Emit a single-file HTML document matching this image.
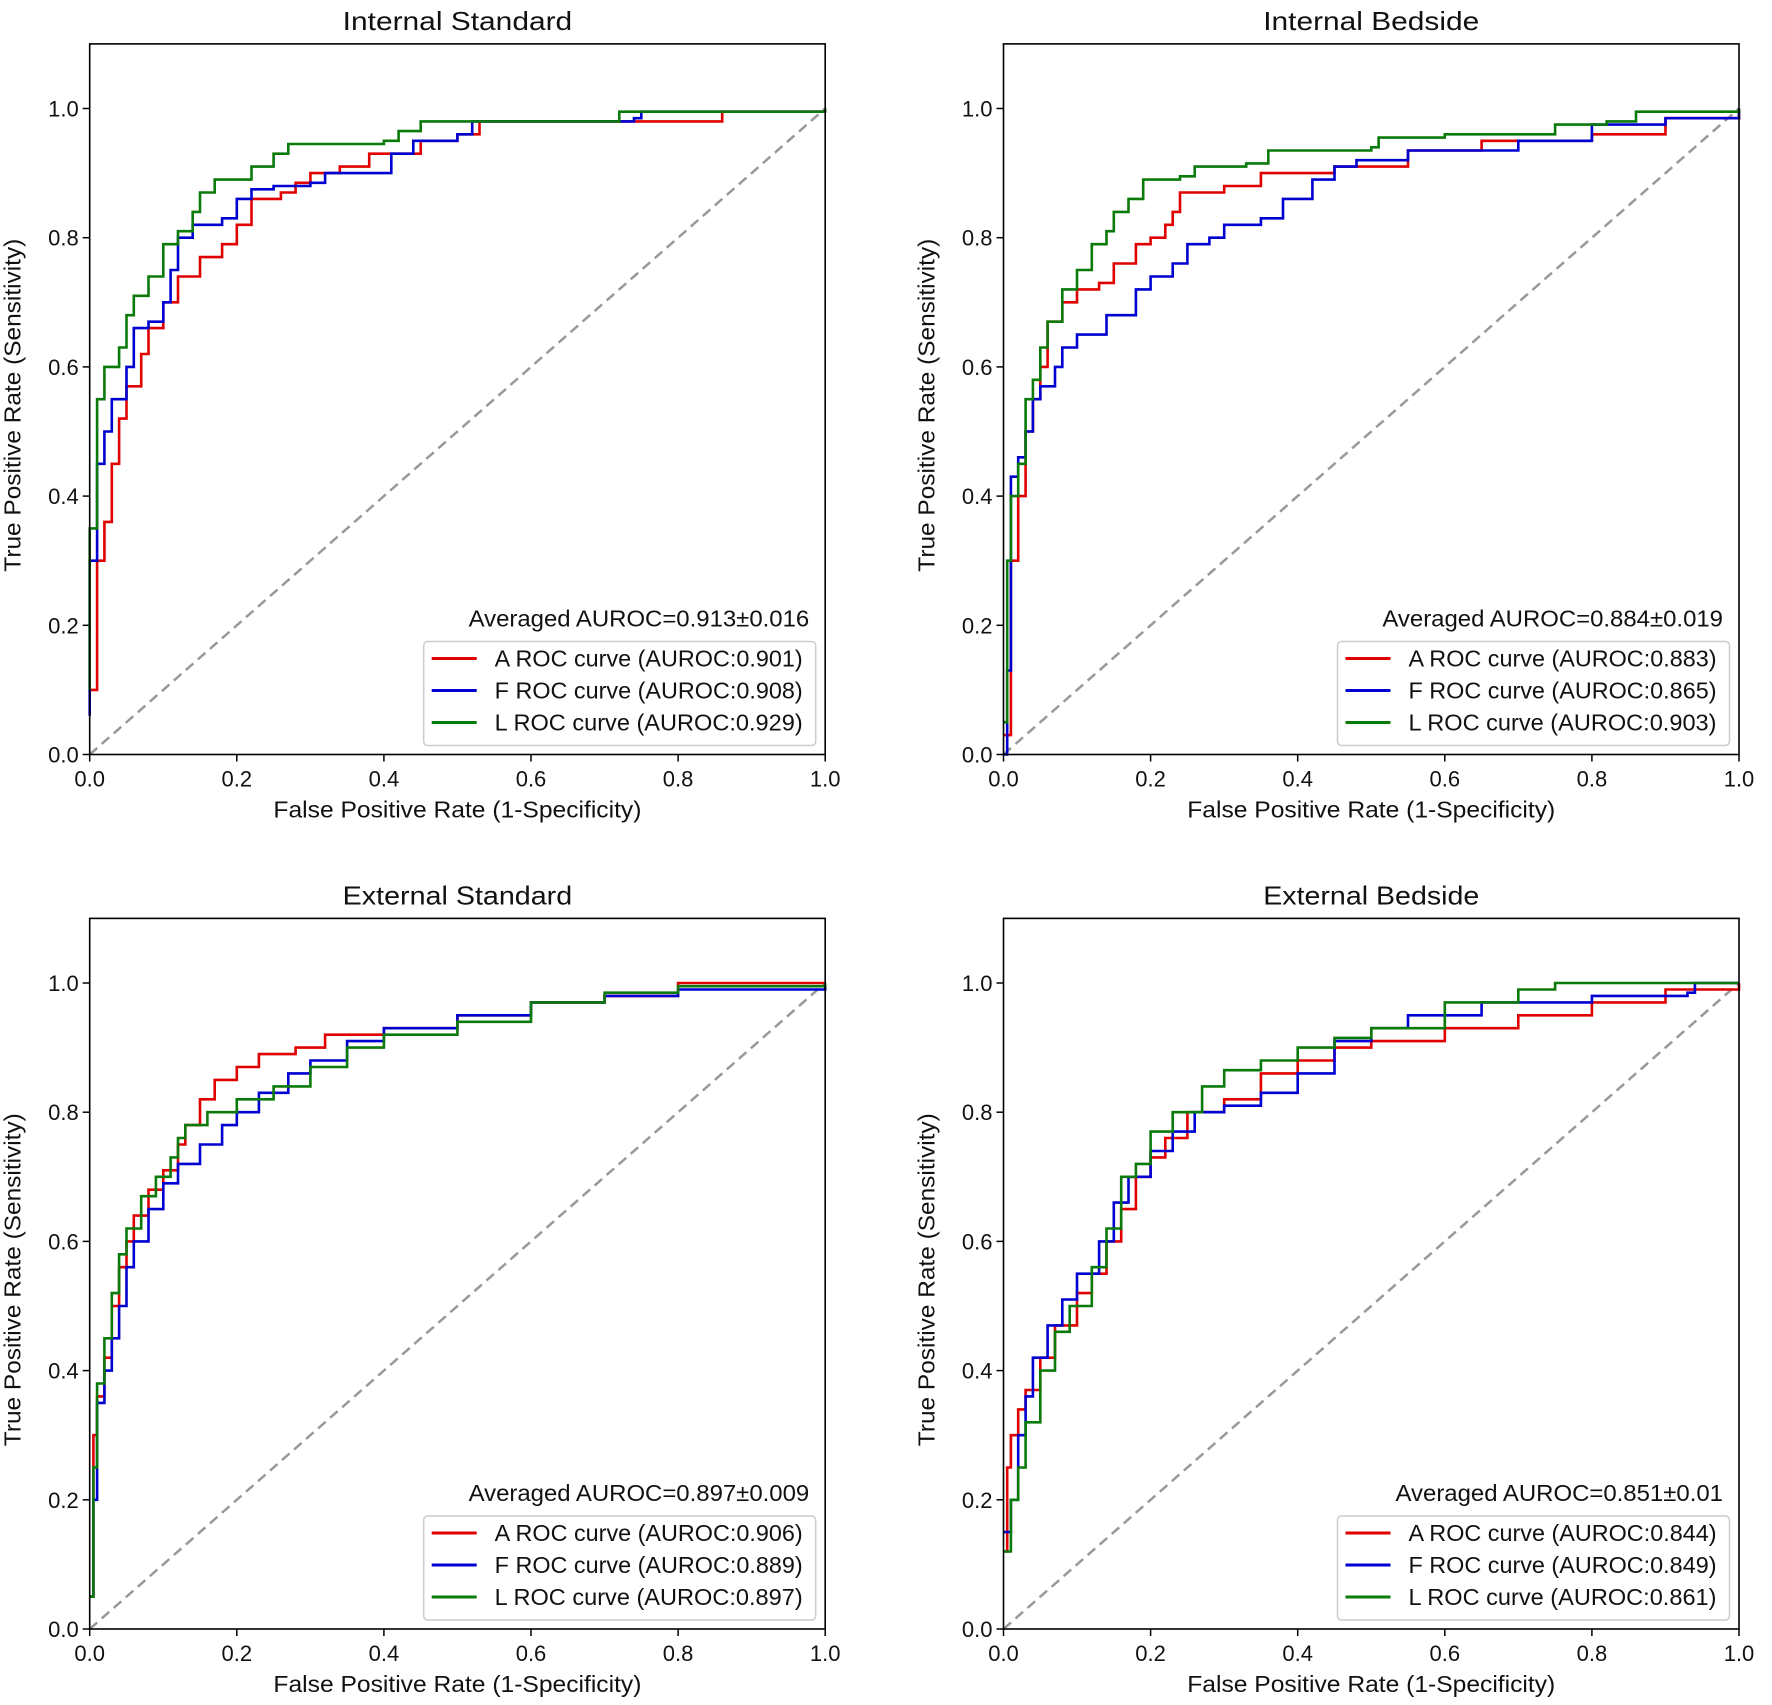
<!DOCTYPE html>
<html><head><meta charset="utf-8"><style>
body{margin:0;background:#fff}
svg{display:block;font-family:"Liberation Sans","DejaVu Sans",sans-serif}
</style></head><body>
<svg id="fig" width="1772" height="1705" viewBox="0 0 1772 1705"></svg>
<script>
const panelTitles=["Internal Standard","Internal Bedside","External Standard","External Bedside"];
const averagedLabels=["Averaged AUROC=0.913±0.016","Averaged AUROC=0.884±0.019","Averaged AUROC=0.897±0.009","Averaged AUROC=0.851±0.01"];
const seriesNames=["A","F","L"];
const seriesColors=["#e00000","#0000d0","#0a7a0a"];
const aurocValues=[["0.901","0.908","0.929"],["0.883","0.865","0.903"],["0.906","0.889","0.897"],["0.844","0.849","0.861"]];
const tickValues=[0,0.2,0.4,0.6,0.8,1.0];
const tickLabels=["0.0","0.2","0.4","0.6","0.8","1.0"];
// panel 1
const p1A_fpr=[0,0.01,0.02,0.03,0.04,0.05,0.07,0.08,0.1,0.12,0.15,0.18,0.2,0.22,0.26,0.28,0.3,0.34,0.38,0.45,0.5,0.53,0.85,0.86,1];
const p1A_tpr=[0.1,0.3,0.36,0.45,0.52,0.57,0.62,0.66,0.7,0.74,0.77,0.79,0.82,0.86,0.87,0.885,0.9,0.91,0.93,0.95,0.96,0.98,0.98,0.995,1];
const p1F_fpr=[0,0,0.01,0.02,0.03,0.05,0.06,0.08,0.1,0.11,0.12,0.14,0.18,0.2,0.22,0.25,0.3,0.32,0.4,0.41,0.44,0.5,0.52,0.74,0.75,1];
const p1F_tpr=[0.06,0.3,0.45,0.5,0.55,0.6,0.66,0.67,0.7,0.75,0.8,0.82,0.83,0.86,0.875,0.88,0.885,0.9,0.9,0.93,0.95,0.96,0.98,0.985,0.995,1];
const p1L_fpr=[0,0,0.01,0.01,0.02,0.04,0.05,0.06,0.08,0.1,0.12,0.14,0.15,0.17,0.2,0.22,0.25,0.27,0.4,0.42,0.45,0.7,0.72,1];
const p1L_tpr=[0.1,0.35,0.5,0.55,0.6,0.63,0.68,0.71,0.74,0.79,0.81,0.84,0.87,0.89,0.89,0.91,0.93,0.945,0.95,0.965,0.98,0.98,0.995,1];
// panel 2
const p2A_fpr=[0,0.01,0.02,0.03,0.04,0.05,0.06,0.08,0.1,0.13,0.15,0.18,0.2,0.22,0.23,0.24,0.3,0.35,0.45,0.5,0.55,0.65,0.8,0.9,1];
const p2A_tpr=[0.03,0.3,0.4,0.5,0.55,0.6,0.67,0.7,0.72,0.73,0.76,0.79,0.8,0.82,0.84,0.87,0.88,0.9,0.91,0.91,0.935,0.95,0.96,0.985,1];
const p2F_fpr=[0,0.005,0.01,0.02,0.03,0.04,0.05,0.07,0.08,0.1,0.14,0.18,0.2,0.23,0.25,0.28,0.3,0.35,0.38,0.42,0.45,0.48,0.55,0.7,0.8,0.9,1];
const p2F_tpr=[0,0.13,0.43,0.46,0.5,0.55,0.57,0.6,0.63,0.65,0.68,0.72,0.74,0.76,0.79,0.8,0.82,0.83,0.86,0.89,0.91,0.92,0.935,0.95,0.975,0.985,1];
const p2L_fpr=[0,0.005,0.01,0.02,0.03,0.04,0.05,0.06,0.08,0.1,0.12,0.14,0.15,0.17,0.19,0.24,0.26,0.33,0.36,0.5,0.51,0.6,0.75,0.82,0.86,1];
const p2L_tpr=[0.05,0.3,0.4,0.45,0.55,0.58,0.63,0.67,0.72,0.75,0.79,0.81,0.84,0.86,0.89,0.895,0.91,0.915,0.935,0.94,0.955,0.96,0.975,0.98,0.995,1];
// panel 3
const p3A_fpr=[0,0.005,0.01,0.02,0.03,0.04,0.05,0.06,0.08,0.1,0.12,0.13,0.15,0.17,0.2,0.23,0.28,0.32,0.4,0.5,0.6,0.7,0.8,1];
const p3A_tpr=[0.05,0.3,0.36,0.42,0.5,0.56,0.6,0.64,0.68,0.71,0.75,0.78,0.82,0.85,0.87,0.89,0.9,0.92,0.93,0.95,0.97,0.98,1.0,1];
const p3F_fpr=[0,0.005,0.01,0.02,0.03,0.04,0.05,0.06,0.08,0.1,0.12,0.15,0.18,0.2,0.23,0.27,0.3,0.35,0.4,0.5,0.6,0.7,0.8,1];
const p3F_tpr=[0.05,0.2,0.35,0.4,0.45,0.5,0.56,0.6,0.65,0.69,0.72,0.75,0.78,0.8,0.83,0.86,0.88,0.91,0.93,0.95,0.97,0.98,0.99,1];
const p3L_fpr=[0,0.005,0.01,0.02,0.03,0.04,0.05,0.07,0.09,0.11,0.12,0.13,0.16,0.2,0.25,0.3,0.35,0.4,0.5,0.6,0.7,0.8,1];
const p3L_tpr=[0.05,0.25,0.38,0.45,0.52,0.58,0.62,0.67,0.7,0.73,0.76,0.78,0.8,0.82,0.84,0.87,0.9,0.92,0.94,0.97,0.985,0.995,1];
// panel 4
const p4A_fpr=[0,0.005,0.01,0.02,0.03,0.05,0.07,0.1,0.12,0.14,0.16,0.18,0.2,0.22,0.25,0.3,0.35,0.4,0.45,0.5,0.6,0.7,0.8,0.9,1];
const p4A_tpr=[0.12,0.25,0.3,0.34,0.37,0.42,0.47,0.52,0.55,0.6,0.65,0.7,0.73,0.76,0.8,0.82,0.86,0.88,0.9,0.91,0.93,0.95,0.97,0.99,1];
const p4F_fpr=[0,0.01,0.02,0.03,0.04,0.06,0.08,0.1,0.13,0.15,0.17,0.2,0.23,0.26,0.3,0.35,0.4,0.45,0.5,0.55,0.65,0.8,0.93,0.94,1];
const p4F_tpr=[0.15,0.2,0.3,0.36,0.42,0.47,0.51,0.55,0.6,0.66,0.7,0.74,0.77,0.8,0.81,0.83,0.86,0.91,0.93,0.95,0.97,0.98,0.985,1,1];
const p4L_fpr=[0,0.01,0.02,0.03,0.05,0.07,0.09,0.12,0.14,0.16,0.18,0.2,0.23,0.27,0.3,0.35,0.4,0.45,0.5,0.6,0.7,0.75,1];
const p4L_tpr=[0.12,0.2,0.25,0.32,0.4,0.46,0.5,0.56,0.62,0.7,0.72,0.77,0.8,0.84,0.865,0.88,0.9,0.915,0.93,0.97,0.99,1.0,1];

const curves=[
 [[p1A_fpr,p1A_tpr],[p1F_fpr,p1F_tpr],[p1L_fpr,p1L_tpr]],
 [[p2A_fpr,p2A_tpr],[p2F_fpr,p2F_tpr],[p2L_fpr,p2L_tpr]],
 [[p3A_fpr,p3A_tpr],[p3F_fpr,p3F_tpr],[p3L_fpr,p3L_tpr]],
 [[p4A_fpr,p4A_tpr],[p4F_fpr,p4F_tpr],[p4L_fpr,p4L_tpr]]];

const NS="http://www.w3.org/2000/svg";
const svg=document.getElementById('fig');
function mk(tag,attrs,parent){const e=document.createElementNS(NS,tag);for(const k in attrs)e.setAttribute(k,attrs[k]);(parent||svg).appendChild(e);return e;}
const lefts=[89.7,1003.5], bottoms=[754.5,1629];
const W=735.5, U=646;
for(let p=0;p<4;p++){
 const L=lefts[p%2], B=bottoms[Math.floor(p/2)], T=B-1.1*U;
 const sx=v=>L+v*W, sy=v=>B-v*U;
 const g=mk('g',{});
 
 
 const title=mk('text',{x:L+W/2,y:T-14,'text-anchor':'middle','font-size':26,fill:'#111'},g);
 title.textContent=panelTitles[p];
 title.setAttribute('textLength',panelTitles[p].length*13.5);
 title.setAttribute('lengthAdjust','spacingAndGlyphs');
 
 
 const d=mk('line',{x1:sx(0),y1:sy(0),x2:sx(1),y2:sy(1),stroke:'#999','stroke-width':2.5,'stroke-dasharray':'10,6'},g);
 
 
 for(let i=0;i<tickValues.length;i++){
  const v=tickValues[i];
  mk('line',{x1:sx(v),y1:B,x2:sx(v),y2:B+7,stroke:'#000','stroke-width':1.5},g);
  const tx=mk('text',{x:sx(v),y:B+32,'text-anchor':'middle','font-size':22,fill:'#111'},g);
  tx.textContent=tickLabels[i];
  
  
  mk('line',{x1:L-7,y1:sy(v),x2:L,y2:sy(v),stroke:'#000','stroke-width':1.5},g);
  const ty=mk('text',{x:L-11,y:sy(v)+8,'text-anchor':'end','font-size':22,fill:'#111'},g);
  ty.textContent=tickLabels[i];
  
  
 }
 const xl=mk('text',{x:L+W/2,y:B+63,'text-anchor':'middle','font-size':23,fill:'#111',textLength:368,lengthAdjust:'spacingAndGlyphs'},g);
 xl.textContent='False Positive Rate (1-Specificity)';
 
 
 const yx=L-69, yy=B-1.1*U/2+6;
 const yl=mk('text',{x:yx,y:yy,'text-anchor':'middle','font-size':23,fill:'#111',textLength:333,lengthAdjust:'spacingAndGlyphs',transform:`rotate(-90 ${yx} ${yy})`},g);
 yl.textContent='True Positive Rate (Sensitivity)';
 
 
 for(let s=0;s<3;s++){
  const [fx,ty2]=curves[p][s];
  let pts=[];
  for(let i=0;i<fx.length;i++){
   if(i>0) pts.push(sx(fx[i]).toFixed(1)+','+sy(ty2[i-1]).toFixed(1));
   pts.push(sx(fx[i]).toFixed(1)+','+sy(ty2[i]).toFixed(1));
  }
  const pl=mk('polyline',{points:pts.join(' '),fill:'none',stroke:seriesColors[s],'stroke-width':2.6},g);
  
  
 }
 const fr=mk('rect',{x:L,y:T,width:W,height:1.1*U,fill:'none',stroke:'#000','stroke-width':1.6},g);
 
 
 const avLen=averagedLabels[p].length*13.1;
 const av=mk('text',{x:L+W-16,y:B-128,'text-anchor':'end','font-size':23,fill:'#111',textLength:avLen,lengthAdjust:'spacingAndGlyphs'},g);
 av.textContent=averagedLabels[p];
 
 
 const lg=mk('g',{},g);
 
 
 mk('rect',{x:L+334,y:B-113,width:392,height:104,rx:4,fill:'#fff',stroke:'#ccc','stroke-width':1.5},lg);
 for(let s=0;s<3;s++){
  const y=B-96+s*32;
  mk('line',{x1:L+342,y1:y,x2:L+387,y2:y,stroke:seriesColors[s],'stroke-width':3},lg);
  const t=mk('text',{x:L+405,y:y+8,'font-size':23,fill:'#111',textLength:308,lengthAdjust:'spacingAndGlyphs'},lg);
  t.textContent=seriesNames[s]+' ROC curve (AUROC:'+aurocValues[p][s]+')';
  
  
 }
}
</script>
</body></html>
